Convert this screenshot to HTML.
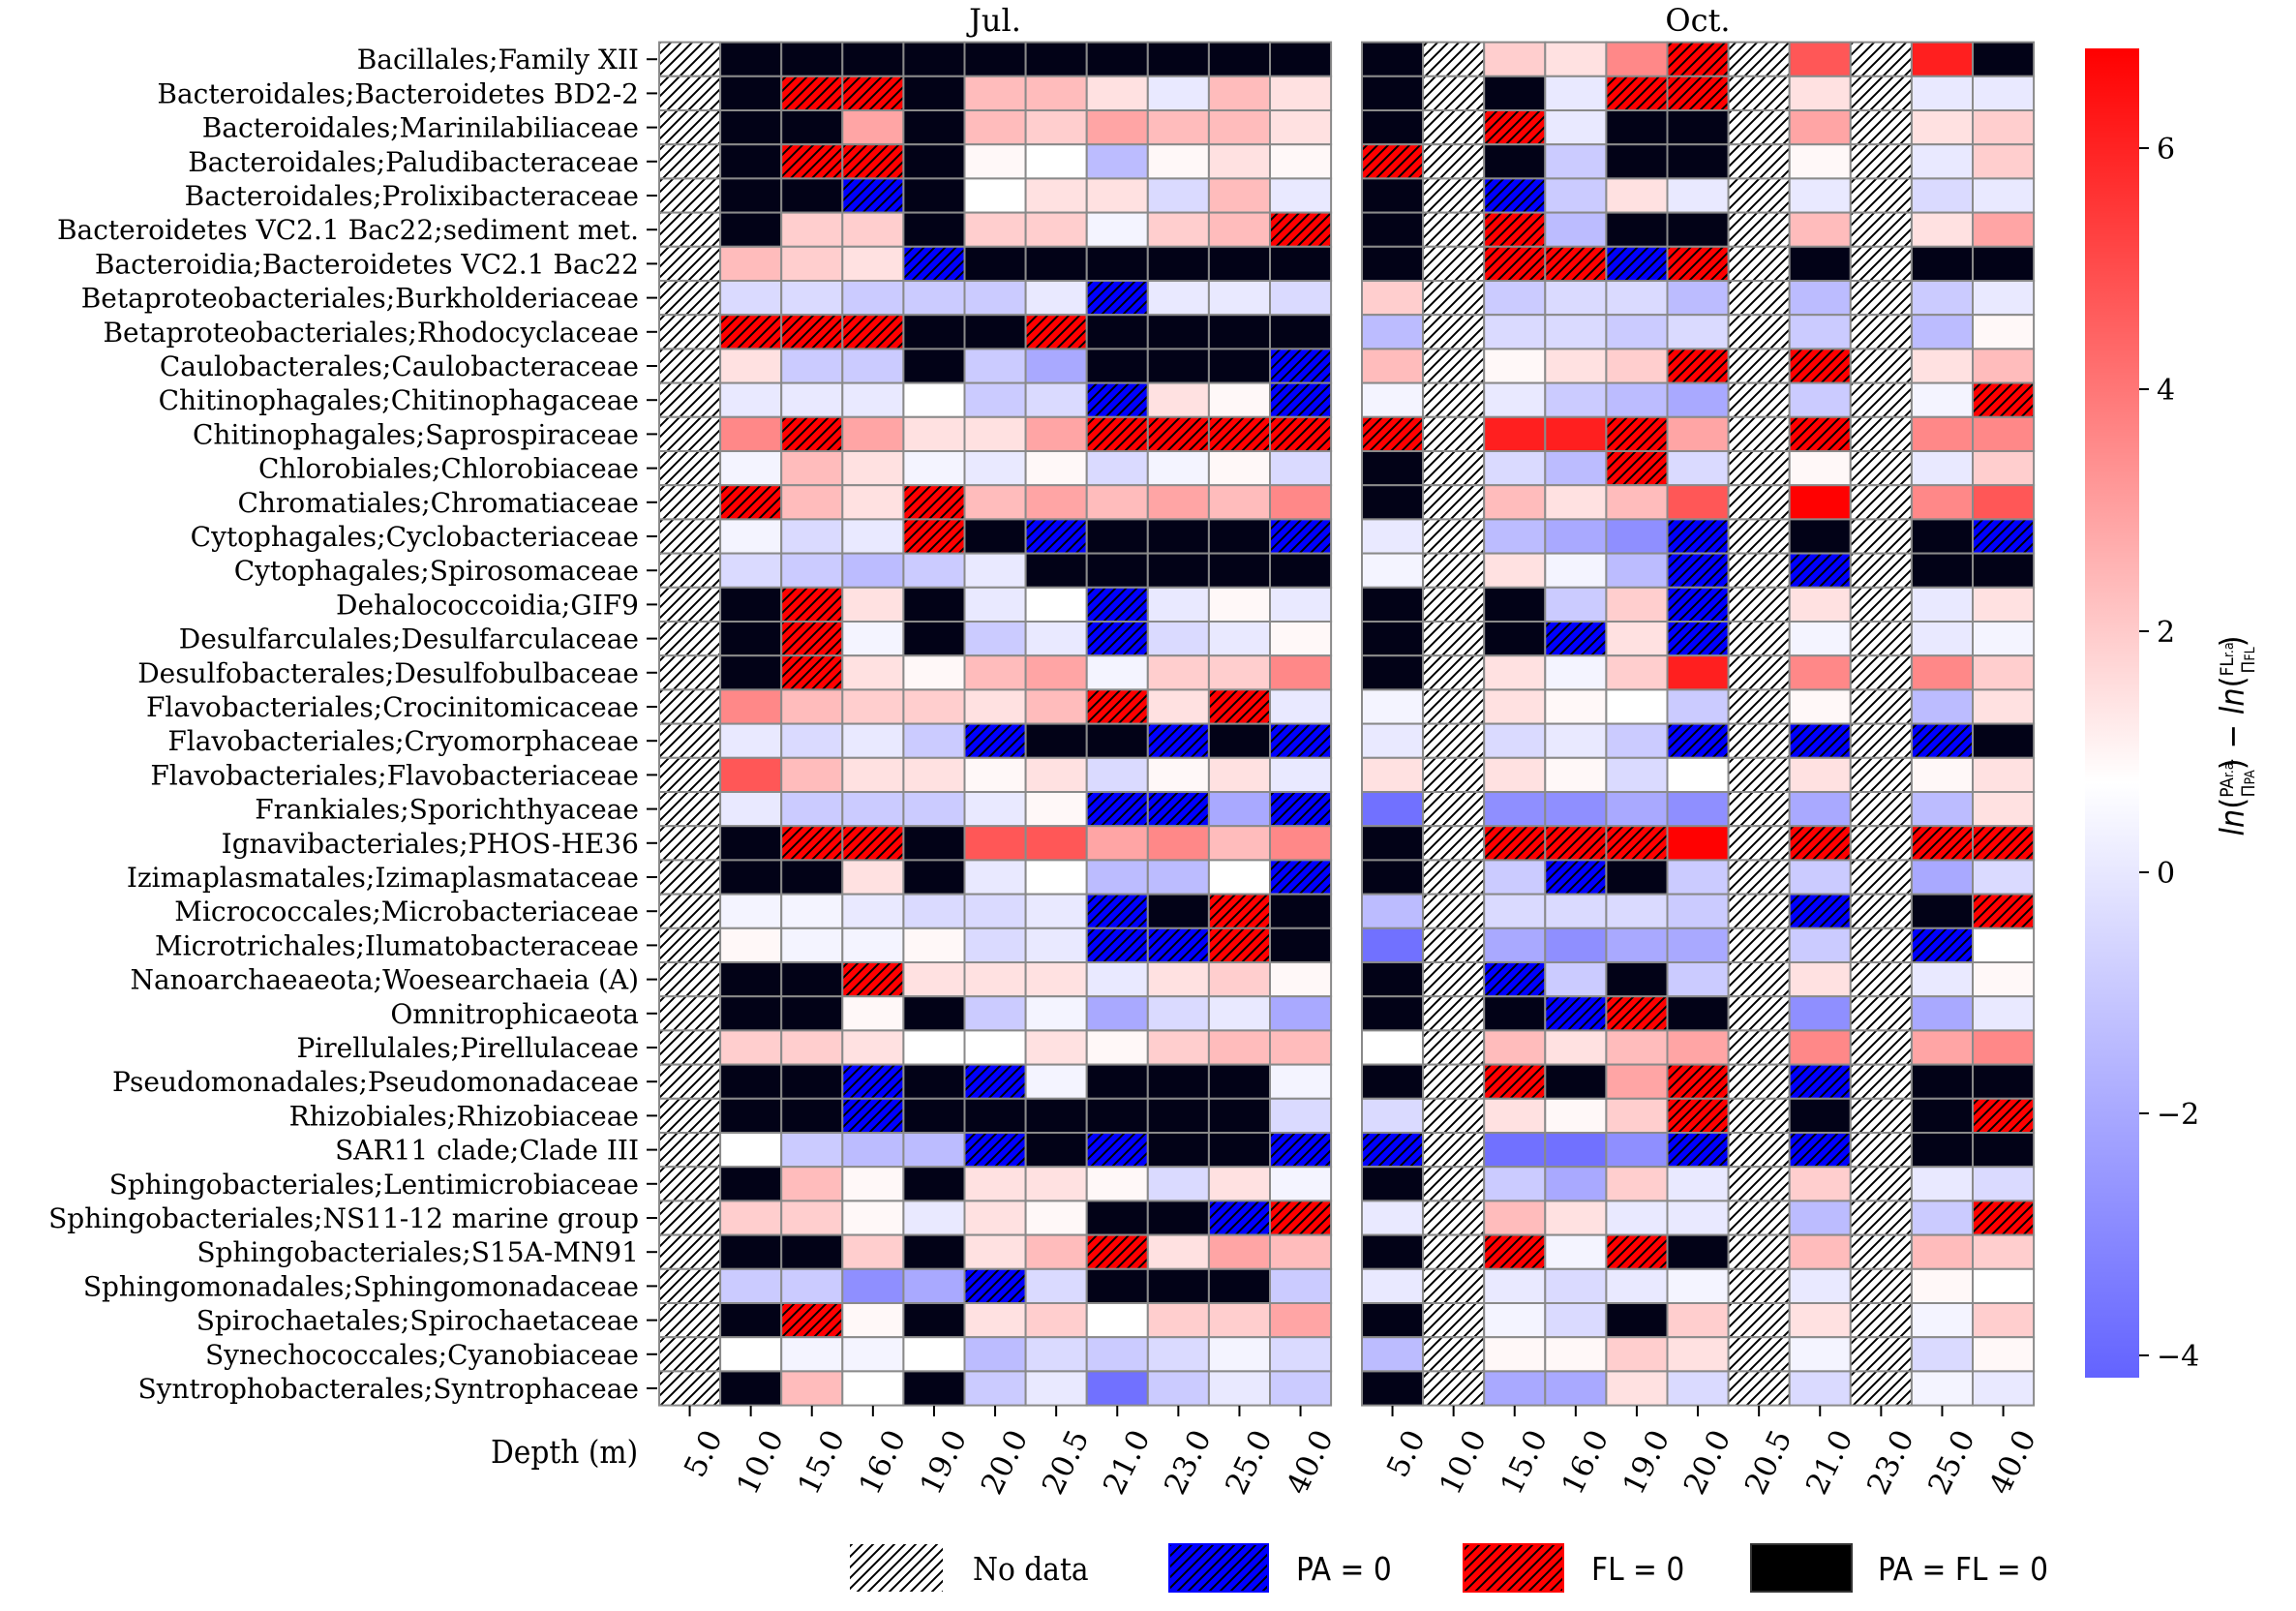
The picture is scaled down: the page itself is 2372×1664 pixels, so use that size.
<!DOCTYPE html>
<html><head><meta charset="utf-8">
<style>
html,body{margin:0;padding:0;background:#fff;}
svg{display:block;}
text{font-family:"DejaVu Serif","Liberation Serif",serif;fill:#000;}
.cond{font-family:"DejaVu Serif Condensed","DejaVu Serif","Liberation Serif",serif;}
.sans{font-family:"DejaVu Sans Condensed","DejaVu Sans","Liberation Sans",sans-serif;}
</style></head>
<body>
<svg id="s" width="2372" height="1664" viewBox="0 0 2372 1664" xmlns="http://www.w3.org/2000/svg">
<defs>
<pattern id="hw" patternUnits="userSpaceOnUse" width="11" height="11">
<rect width="11" height="11" fill="#fff"/>
<path d="M-2,13 L13,-2 M-13,13 L2,-2 M9,13 L24,-2" stroke="#000" stroke-width="2"/>
</pattern>
<pattern id="hb" patternUnits="userSpaceOnUse" width="11" height="11">
<rect width="11" height="11" fill="#0000ff"/>
<path d="M-2,13 L13,-2 M-13,13 L2,-2 M9,13 L24,-2" stroke="#000" stroke-width="2"/>
</pattern>
<pattern id="hr" patternUnits="userSpaceOnUse" width="11" height="11">
<rect width="11" height="11" fill="#ff0000"/>
<path d="M-2,13 L13,-2 M-13,13 L2,-2 M9,13 L24,-2" stroke="#000" stroke-width="2"/>
</pattern>
<linearGradient id="cb" x1="0" y1="0" x2="0" y2="1">
<stop offset="0" stop-color="#ff0000"/>
<stop offset="0.5523" stop-color="#ffffff"/>
<stop offset="1" stop-color="#6363ff"/>
</linearGradient>
</defs>
<g id="g"></g>
</svg>
<script>
var labels=["Bacillales;Family XII","Bacteroidales;Bacteroidetes BD2-2","Bacteroidales;Marinilabiliaceae","Bacteroidales;Paludibacteraceae","Bacteroidales;Prolixibacteraceae","Bacteroidetes VC2.1 Bac22;sediment met.","Bacteroidia;Bacteroidetes VC2.1 Bac22","Betaproteobacteriales;Burkholderiaceae","Betaproteobacteriales;Rhodocyclaceae","Caulobacterales;Caulobacteraceae","Chitinophagales;Chitinophagaceae","Chitinophagales;Saprospiraceae","Chlorobiales;Chlorobiaceae","Chromatiales;Chromatiaceae","Cytophagales;Cyclobacteriaceae","Cytophagales;Spirosomaceae","Dehalococcoidia;GIF9","Desulfarculales;Desulfarculaceae","Desulfobacterales;Desulfobulbaceae","Flavobacteriales;Crocinitomicaceae","Flavobacteriales;Cryomorphaceae","Flavobacteriales;Flavobacteriaceae","Frankiales;Sporichthyaceae","Ignavibacteriales;PHOS-HE36","Izimaplasmatales;Izimaplasmataceae","Micrococcales;Microbacteriaceae","Microtrichales;Ilumatobacteraceae","Nanoarchaeaeota;Woesearchaeia (A)","Omnitrophicaeota","Pirellulales;Pirellulaceae","Pseudomonadales;Pseudomonadaceae","Rhizobiales;Rhizobiaceae","SAR11 clade;Clade III","Sphingobacteriales;Lentimicrobiaceae","Sphingobacteriales;NS11-12 marine group","Sphingobacteriales;S15A-MN91","Sphingomonadales;Sphingomonadaceae","Spirochaetales;Spirochaetaceae","Synechococcales;Cyanobiaceae","Syntrophobacterales;Syntrophaceae"];
var jul=["HKKKKKKKKKK","HKRRK331a31","HKK4K324331","HKRRKp0dp1p","HKKBK011b3a","HK22K22q23R","H321BKKKKKK","HbbcccaBaab","HRRRKKRKKKK","H1ccKceKKKB","Haaa0cbB1pB","H5R4114RRRR","Hq31qapbqpb","HR31R343435","HqbaRKBKKKB","HbcdcaKKKKK","HKR1Ka0BapA","HKRqKcaBbap","HKR1p34q225","H532213R1Ra","HabacBKKBKB","H6311p1bp1a","HacccapBBeB","HKRRK664535","HKK1Ka0dd0B","HqqabbaBKRK","HpqqpbaBBRK","HKKR111a12p","HKKpKcqebae","H221001p233","HKKBKBqKKKq","HKKBKKKKKKb","H0cddBKBKKB","HK3pK11pb1q","H22pa1pKKBR","HKK2K13R143","HccfeBbKKKc","HKRpK120224","H0qq0dbcbqb","HK30Kcagcac"];
var oct=["KH215RH6H7K","KHKaRRH1Haa","KHRaKKH4H12","RHKcKKHpHa2","KHBc1aHaHba","KHRdKKH3H14","KHRRBRHKHKK","2HcbbdHdHca","dHbbcbHcHdp","3Hp12RHRH13","qHacdeHcHqR","RH77R4HRH55","KHbdRbHpHa2","KH3136H8H56","aHdefBHKHKB","qH1qdBHBHKK","KHKc2BH1Ha1","KHKB1BHqHaq","KH1q27H5H52","qH1p0cHpHd1","aHbacBHBHBK","1H1pb0H1Hp1","gHffefHeHd1","KHRRR8HRHRR","KHcBKcHcHeb","dHbbbcHBHKR","gHefeeHcHB0","KHBcKcH1Hap","KHKBRKHfHea","0H3134H5H45","KHRK4RHBHKK","bH1p2RHKHKR","BHggfBHBHKK","KHce2aH2Hab","aH31aaHdHcR","KHRqRKH3H32","aHabaqHaHp0","KHqbK2H1Hq2","dHpp21HqHbp","KHee1bHbHqa"];
var vals={p:0.2,'0':0,'1':0.8,'2':1.3,'3':1.8,'4':2.4,'5':3.2,'6':4.5,'7':6,'8':6.8,q:-0.3,a:-0.6,A:-0.6,b:-1,c:-1.4,d:-1.8,e:-2.3,f:-3,g:-3.8};
function col(v){var vm=6.83,f=Math.min(1,Math.abs(v)/vm),c=Math.round(255*(1-f));return v>=0?"rgb(255,"+c+","+c+")":"rgb("+c+","+c+",255)";}
var depths=["5.0","10.0","15.0","16.0","19.0","20.0","20.5","21.0","23.0","25.0","40.0"];
var top0=43.6,rh=35.2,cw=63.1,x0s=[681,1407];
var h='';
function cell(x,y,c){var f;
 if(c=='H')f='url(#hw)';else if(c=='B')f='url(#hb)';else if(c=='R')f='url(#hr)';else if(c=='K')f='#020217';else f=col(vals[c]);
 return '<rect x="'+x.toFixed(1)+'" y="'+y.toFixed(1)+'" width="'+cw.toFixed(1)+'" height="'+rh.toFixed(1)+'" fill="'+f+'" stroke="#8a8a8a" stroke-width="2"/>';}
[jul,oct].forEach(function(d,p){var x0=x0s[p];
 for(var r=0;r<40;r++)for(var c=0;c<11;c++)h+=cell(x0+c*cw,top0+r*rh,d[r][c]);
 for(var c=0;c<11;c++){var tx=x0+(c+0.5)*cw;
  h+='<line x1="'+tx+'" y1="1452" x2="'+tx+'" y2="1463" stroke="#000" stroke-width="2"/>';
  h+='<text x="'+(tx+14)+'" y="1474" font-size="31" text-anchor="end" transform="rotate(-64 '+(tx+14)+' 1474)" dominant-baseline="hanging">'+depths[c]+'</text>';}
});
for(var r=0;r<40;r++){var y=top0+(r+0.5)*rh;
 h+='<line x1="668" y1="'+y+'" x2="679" y2="'+y+'" stroke="#000" stroke-width="2"/>';
 h+='<text x="660" y="'+(y+10)+'" font-size="28" text-anchor="end">'+labels[r]+'</text>';}
h+='<text x="1028" y="32" font-size="32" text-anchor="middle">Jul.</text>';
h+='<text x="1754" y="32" font-size="32" text-anchor="middle">Oct.</text>';
h+='<text x="507" y="1511" font-size="33" class="cond">Depth (m)</text>';
h+='<rect x="2154" y="50" width="56" height="1373" fill="url(#cb)"/>';
[[6,153],[4,402],[2,652],[0,901],[-2,1150],[-4,1400]].forEach(function(t){
 h+='<line x1="2210" y1="'+t[1]+'" x2="2220" y2="'+t[1]+'" stroke="#000" stroke-width="2"/>';
 h+='<text x="2228" y="'+(t[1]+11)+'" font-size="30">'+(t[0]<0?'\u2212'+(-t[0]):t[0])+'</text>';});
h+='<g transform="translate(2318 760) rotate(-90)"><text x="0" y="0" font-size="34" text-anchor="middle" class="sans"><tspan font-style="italic">ln</tspan>(<tspan font-size="19" dy="-11">PA</tspan><tspan font-size="14">r.a.</tspan><tspan font-size="19" dx="-40" dy="22">\u03A0</tspan><tspan font-size="14">PA</tspan><tspan dy="-11">)</tspan> \u2212 <tspan font-style="italic">ln</tspan>(<tspan font-size="19" dy="-11">FL</tspan><tspan font-size="14">r.a.</tspan><tspan font-size="19" dx="-36" dy="22">\u03A0</tspan><tspan font-size="14">FL</tspan><tspan dy="-11">)</tspan></text></g>';
h+='<rect x="878" y="1595" width="96" height="49" fill="url(#hw)"/>';
h+='<text x="1005" y="1632" font-size="33" class="cond">No data</text>';
h+='<rect x="1208" y="1595" width="102" height="49" fill="url(#hb)" stroke="#0000ff" stroke-width="2"/>';
h+='<text x="1339" y="1632" font-size="33" class="sans">PA = 0</text>';
h+='<rect x="1512" y="1595" width="103" height="49" fill="url(#hr)" stroke="#ff0000" stroke-width="2"/>';
h+='<text x="1644" y="1632" font-size="33" class="sans">FL = 0</text>';
h+='<rect x="1809" y="1595" width="104" height="49" fill="#000" stroke="#333" stroke-width="2"/>';
h+='<text x="1940" y="1632" font-size="33" class="sans">PA = FL = 0</text>';
document.getElementById('g').innerHTML=h;
</script>
</body></html>
